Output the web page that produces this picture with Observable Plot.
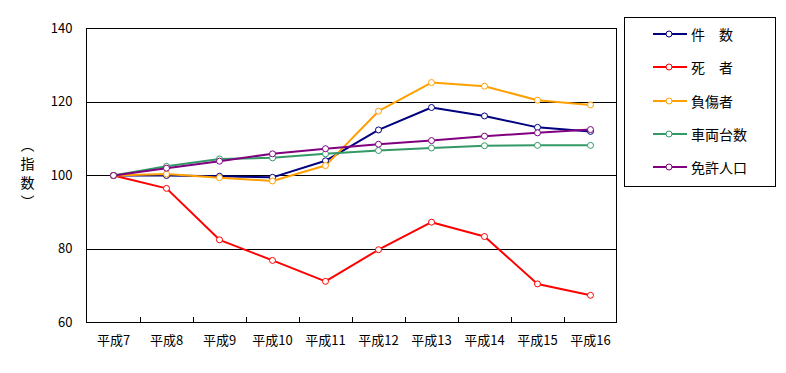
<!DOCTYPE html>
<html>
<head>
<meta charset="utf-8">
<script src="https://cdn.jsdelivr.net/npm/d3@7"></script>
<script src="https://cdn.jsdelivr.net/npm/@observablehq/plot@0.6"></script>
<style>
  body { margin: 0; background: #fff; font-family: "Noto Sans CJK JP", sans-serif; }
  #wrap { position: relative; width: 786px; height: 373px; }
  #legend { position: absolute; left: 624px; top: 17px; width: 150px; height: 168px; border: 1px solid #000; background: #fff; }
  .item { position: absolute; left: 28px; height: 20px; display: flex; align-items: center; font-size: 14px; color: #000; }
  .item svg { margin-right: 4px; }
</style>
</head>
<body>
<div id="wrap"></div>
<script>
const years = ["平成7","平成8","平成9","平成10","平成11","平成12","平成13","平成14","平成15","平成16"];
const seriesNames = ["件　数","死　者","負傷者","車両台数","免許人口"];
const seriesColors = ["#000080","#ff0000","#ffa000","#339966","#800080"];
const kensu   = [100, 100.0, 99.8, 99.5, 104.0, 112.4, 118.5, 116.2, 113.1, 112.0];
const shisha  = [100, 96.5, 82.5, 76.9, 71.2, 79.8, 87.3, 83.4, 70.5, 67.4];
const fushou  = [100, 100.4, 99.4, 98.5, 102.7, 117.5, 125.3, 124.3, 120.5, 119.2];
const sharyou = [100, 102.5, 104.5, 104.8, 105.9, 106.8, 107.5, 108.1, 108.2, 108.2];
const menkyo  = [100, 102.0, 103.9, 105.9, 107.3, 108.5, 109.5, 110.7, 111.6, 112.5];
const yTicks = [60, 80, 100, 120, 140];
const gridLines = [80, 100, 120];
const yTitle = "︵\n指\n数\n︶";

const seriesValues = [kensu, shisha, fushou, sharyou, menkyo];
const data = [];
seriesValues.forEach((vals, i) => vals.forEach((v, j) => data.push({series: seriesNames[i], year: years[j], value: v})));

const font = "Noto Sans CJK JP";
const chart = Plot.plot({
  width: 786,
  height: 373,
  marginLeft: 86,
  marginRight: 170,
  marginTop: 28,
  marginBottom: 51,
  style: {fontFamily: font, fontSize: "13px", background: "#fff", color: "#000"},
  x: {type: "point", domain: years, padding: 0.5, label: null},
  y: {domain: [60, 140], label: null},
  color: {domain: seriesNames, range: seriesColors},
  marks: [
    Plot.ruleY(gridLines, {stroke: "#000", strokeWidth: 1, shapeRendering: "crispEdges"}),
    Plot.ruleX(years.slice(0, -1), {x: d => d, y1: 60, y2: 61.4, dx: 26.5, stroke: "#000", shapeRendering: "crispEdges"}),
    Plot.frame({stroke: "#000", strokeWidth: 1, shapeRendering: "crispEdges"}),
    Plot.axisY(yTicks, {tickSize: 0, tickPadding: 14, fontSize: 13, label: null}),
    Plot.axisX({tickSize: 0, tickPadding: 13, fontSize: 13, label: null}),
    Plot.text([yTitle], {frameAnchor: "left", dx: -59, dy: -3, text: d => d, fontSize: 14, lineHeight: 1.35, textAnchor: "middle"}),
    Plot.line(data, {x: "year", y: "value", z: "series", stroke: "series", strokeWidth: 2}),
    Plot.dot(data, {x: "year", y: "value", stroke: "series", fill: "#fff", r: 3, strokeWidth: 1})
  ]
});

const wrap = document.getElementById("wrap");
wrap.appendChild(chart);

const legend = document.createElement("div");
legend.id = "legend";
seriesNames.forEach((name, i) => {
  const item = document.createElement("div");
  item.className = "item";
  item.style.top = (6 + i * 33.3) + "px";
  const c = seriesColors[i];
  item.innerHTML = `<svg width="34" height="10"><line x1="0" y1="5" x2="34" y2="5" stroke="${c}" stroke-width="2"/><circle cx="16" cy="5" r="3" fill="#fff" stroke="${c}" stroke-width="1"/></svg><span>${name}</span>`;
  legend.appendChild(item);
});
wrap.appendChild(legend);
</script>
</body>
</html>
